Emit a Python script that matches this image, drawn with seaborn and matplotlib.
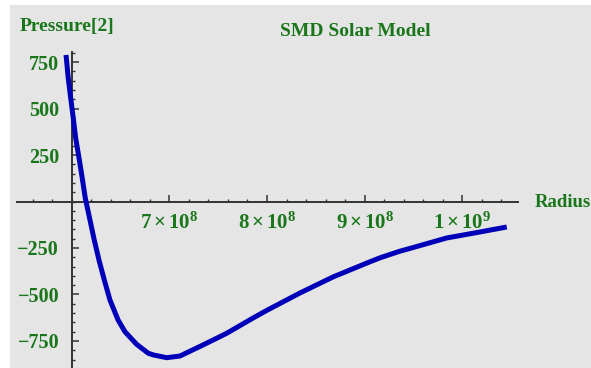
import matplotlib
matplotlib.use("Agg")
import matplotlib.pyplot as plt
from matplotlib.ticker import FixedLocator, MultipleLocator
from matplotlib.patches import Rectangle
import pandas as pd
import seaborn as sns

# Pressure profile of the SMD solar model versus radius
radius = [5.942e8, 5.965e8, 5.990e8, 6.016e8, 6.041e8, 6.075e8, 6.108e8,
          6.139e8, 6.187e8, 6.231e8, 6.279e8, 6.334e8, 6.392e8, 6.475e8,
          6.545e8, 6.665e8, 6.784e8, 6.835e8, 6.972e8, 7.108e8, 7.347e8,
          7.586e8, 7.859e8, 7.996e8, 8.337e8, 8.675e8, 9.022e8, 9.156e8,
          9.356e8, 9.493e8, 9.841e8, 10.18e8, 10.455e8]
pressure = [788, 662, 556, 449, 341, 234, 126,
            19, -99, -207, -314, -422, -530, -637,
            -700, -768, -816, -825, -840, -831, -771,
            -709, -626, -586, -492, -406, -331, -303,
            -268, -248, -196, -164, -137]

x_ticks = [7e8, 8e8, 9e8, 1e9]
x_tick_labels = [r"$\mathbf{7\times10^{8}}$", r"$\mathbf{8\times10^{8}}$",
                 r"$\mathbf{9\times10^{8}}$", r"$\mathbf{1\times10^{9}}$"]
y_ticks = [-750, -500, -250, 250, 500, 750]
y_tick_labels = ["\u2212750", "\u2212500", "\u2212250", "250", "500", "750"]

df = pd.DataFrame({"Radius": radius, "Pressure": pressure})

sns.set_theme(style="white")
plt.rcParams["font.family"] = ["Liberation Serif", "DejaVu Serif"]
plt.rcParams["mathtext.fontset"] = "custom"
plt.rcParams["mathtext.rm"] = "Liberation Serif"
plt.rcParams["mathtext.bf"] = "Liberation Serif:bold"
plt.rcParams["mathtext.it"] = "Liberation Serif:italic"

GREEN = "#1a761a"
BG = "#e5e5e5"
AXIS = "#333333"

fig = plt.figure(figsize=(5.91, 3.68), dpi=100, facecolor="white")
fig.patches.append(Rectangle((10 / 591, 0), 1 - 10 / 591, 1 - 5 / 368,
                             transform=fig.transFigure, facecolor=BG,
                             edgecolor="none", zorder=-10))

ax = fig.add_axes([17 / 591, 1 / 368, (518 - 17) / 591, (367 - 52) / 368])
ax.set_facecolor("none")

sns.lineplot(data=df, x="Radius", y="Pressure", sort=False, ax=ax,
             color="#0000b8", linewidth=3.6, solid_capstyle="butt",
             solid_joinstyle="round")

ax.set_xlim(5.44e8, 10.57e8)
ax.set_ylim(-890, 804)

for side in ("top", "right"):
    ax.spines[side].set_visible(False)
ax.spines["left"].set_position(("data", 6e8))
ax.spines["bottom"].set_position(("data", 0))
for side in ("left", "bottom"):
    ax.spines[side].set_color(AXIS)
    ax.spines[side].set_linewidth(1.4)
    ax.spines[side].set_zorder(1)

ax.xaxis.set_major_locator(FixedLocator(x_ticks))
ax.xaxis.set_minor_locator(MultipleLocator(0.2e8))
ax.set_xticklabels(x_tick_labels)
ax.yaxis.set_major_locator(FixedLocator(y_ticks))
ax.yaxis.set_minor_locator(MultipleLocator(50))
ax.set_yticklabels(y_tick_labels)

ax.tick_params(axis="both", which="both", bottom=True, left=True,
               top=False, right=False)
ax.tick_params(axis="both", which="major", direction="in", length=5,
               width=1.1, color=AXIS, labelcolor=GREEN)
ax.tick_params(axis="both", which="minor", direction="in", length=2.5,
               width=1.0, color=AXIS)
ax.tick_params(axis="x", which="major", pad=8, labelsize=15)
ax.tick_params(axis="y", which="major", pad=9, labelsize=14.5)
for lbl in ax.get_yticklabels():
    lbl.set_fontweight("bold")

ax.set_xlabel("")
ax.set_ylabel("")

fig.text(20 / 591, 1 - 26 / 368, "Pressure[2]", color=GREEN, fontsize=14,
         fontweight="bold", ha="left", va="center")
fig.text(355 / 591, 1 - 32 / 368, "SMD Solar Model", color=GREEN, fontsize=14,
         fontweight="bold", ha="center", va="center")
fig.text(535 / 591, 1 - 203 / 368, "Radius", color=GREEN, fontsize=13.5,
         fontweight="bold", ha="left", va="center")

fig.savefig("out.png", dpi=100, facecolor=fig.get_facecolor())
